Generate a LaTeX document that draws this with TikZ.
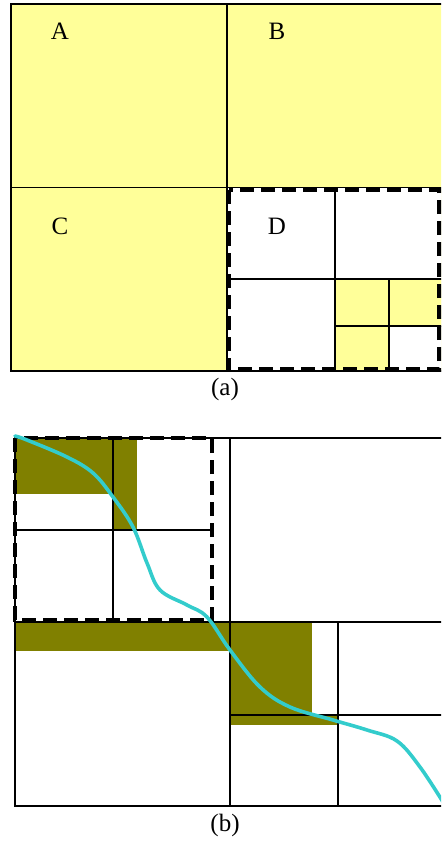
\documentclass[tikz,border=0pt]{standalone}
\usepackage{fontspec}
\setmainfont{Liberation Serif}
\usetikzlibrary{positioning}
\definecolor{cellyellow}{RGB}{255,255,153}
\definecolor{hitolive}{RGB}{128,128,0}
\definecolor{seacyan}{RGB}{51,204,204}
\definecolor{inkblack}{RGB}{0,0,0}
\tikzset{
  cell/.style={draw=inkblack, line width=0.8pt},
  zoombox/.style={draw=inkblack, line width=2.3pt, dash pattern=on 7pt off 3.5pt},
  celllbl/.style={font=\fontsize{12.5}{14}\selectfont, text=inkblack},
  caplbl/.style={font=\fontsize{12.5}{14}\selectfont, text=inkblack},
  seacurve/.style={draw=seacyan, line width=1.8pt, line cap=round},
}

\begin{document}
\begin{tikzpicture}[x=0.5pt, y=-0.5pt]
\useasboundingbox (0,0) rectangle (441,842);
\clip (0,0) rectangle (441,842);

% ============================================================ (a) quadtree
\fill[cellyellow] (11,4) rectangle (445,371);
\fill[white]      (228,188) rectangle (445,370);
\fill[cellyellow] (335,279) rectangle (445,326);
\fill[cellyellow] (335,326) rectangle (389,370);

\draw[cell] (11,4) rectangle (445,371);
\draw[cell] (11,187.5) -- (445,187.5);
\draw[cell, line width=1.2pt] (227,4) -- (227,371);
% cells inside D
\draw[cell] (335,188) -- (335,370);
\draw[cell] (228,279) -- (445,279);
\draw[cell] (389,279) -- (389,370);
\draw[cell] (335,326) -- (445,326);
\draw[zoombox] (228.5,190) rectangle (439.5,369.5);

\node[celllbl] (labA) at (60,31)  {A};
\node[celllbl] (labB) at (277,31) {B};
\node[celllbl] (labC) at (60,226) {C};
\node[celllbl] (labD) at (277,226) {D};
\node[caplbl]  (capA) at (225,389) {(a)};

% ============================================================ (b) matrix blocks
\fill[hitolive] (15,438)  rectangle (113,494);
\fill[hitolive] (113,438) rectangle (137,530);
\fill[hitolive] (15,622)  rectangle (230,651);
\fill[hitolive] (230,622) rectangle (312,715);
\fill[hitolive] (230,715) rectangle (338,725);

\draw[cell] (15,438) rectangle (445,806);
\draw[cell] (230,438) -- (230,806);
\draw[cell] (15,622) -- (445,622);
\draw[cell] (338,622) -- (338,806);
\draw[cell] (230,715) -- (445,715);
% cells inside the dashed block
\draw[cell] (113,438) -- (113,620);
\draw[cell] (15,530) -- (212,530);
\draw[zoombox] (15,438) rectangle (212,620);

\draw[seacurve] plot[smooth, tension=0.6] coordinates {
  (15,436) (27,440) (67,457) (93,473) (113,497) (133,527) (147,563)
  (160,590) (187,605) (207,617) (230,650) (260,687) (290,707)
  (333,720) (367,730) (397,741) (420,767) (443,802)};

\node[caplbl] (capB) at (225,825) {(b)};

\end{tikzpicture}
\end{document}
